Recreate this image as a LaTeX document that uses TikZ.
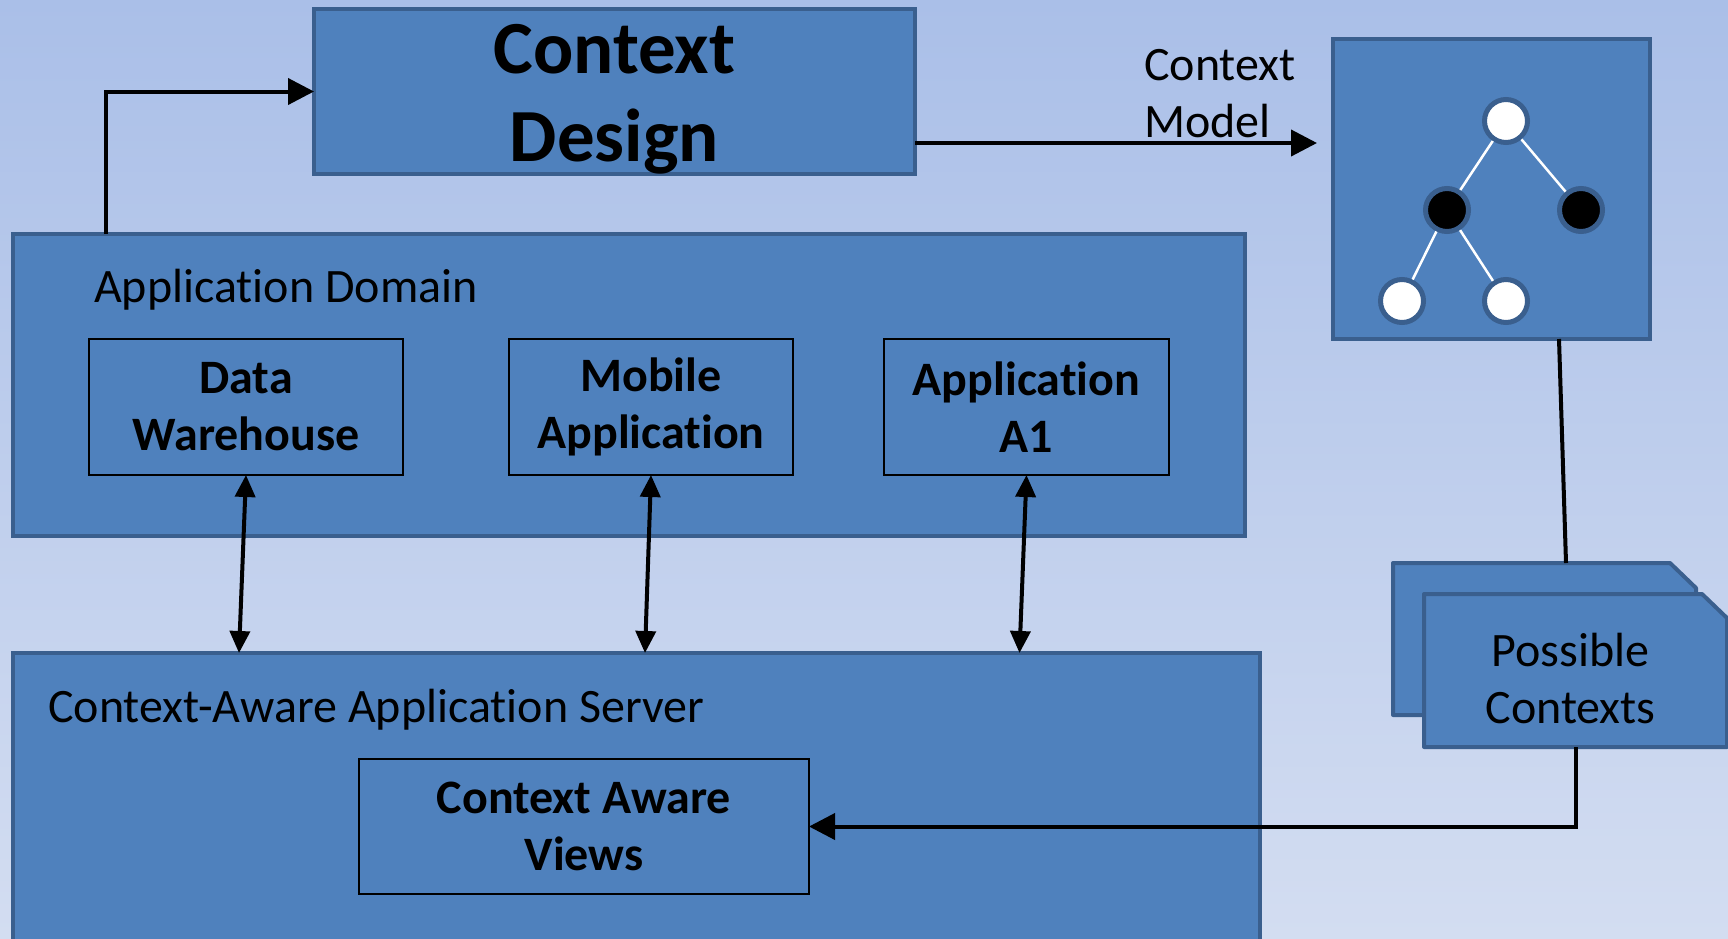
\documentclass[tikz,border=0pt]{standalone}
\usepackage{fontspec}
\setmainfont[Ligatures=NoCommon]{Carlito}
\usetikzlibrary{arrows.meta,calc}
\definecolor{boxblue}{HTML}{4F81BD}
\definecolor{boxedge}{HTML}{3A5F8E}
\definecolor{bgtop}{HTML}{AABFE8}
\definecolor{bgbot}{HTML}{D3DDF1}
\tikzset{
  bigbox/.style={draw=boxedge, fill=boxblue, line width=4pt, inner sep=0pt, outer sep=0pt, anchor=north west},
  innerbox/.style={draw=black, line width=1.5pt, inner sep=0pt, outer sep=0pt, anchor=north west,
    align=center, font=\fontsize{48}{57}\selectfont\bfseries},
  plain/.style={inner sep=0pt, font=\fontsize{48}{57}\selectfont},
  docframe/.style={inner sep=0pt, outer sep=0pt, anchor=north west},
  docfill/.style={draw=boxedge, fill=boxblue, line width=4pt, line join=round},
  arr/.style={draw=black, line width=4pt, -{Triangle[length=26pt,width=26pt]}},
  darr/.style={draw=black, line width=4pt, {Triangle[length=22pt,width=20pt]}-{Triangle[length=22pt,width=20pt]}},
  link/.style={draw=black, line width=4pt},
  treenode/.style={circle, draw=boxedge, line width=5pt, minimum size=43pt, inner sep=0pt},
  treeedge/.style={draw=white, line width=2.5pt},
}
\begin{document}
\begin{tikzpicture}[x=1pt,y=-1pt]
  % background
  \shade[top color=bgtop, bottom color=bgbot] (0,0) rectangle (1728,938);
  \useasboundingbox (0,0) rectangle (1728,938);

  % top box
  \node[bigbox, minimum width=601pt, minimum height=165pt] (design) at (314,9) {};
  \node[inner sep=0pt, align=center, font=\fontsize{75}{88}\selectfont\bfseries]
    (designtext) at ($(design.center)+(0,8)$) {Context\\Design};

  % context model box with tree
  \node[bigbox, minimum width=317pt, minimum height=300pt] (model) at (1333,39) {};
  \node[treenode, fill=white] (t1) at (1506,121) {};
  \node[treenode, fill=black] (t2) at (1447,210) {};
  \node[treenode, fill=black] (t3) at (1581,210) {};
  \node[treenode, fill=white] (t4) at (1402,301) {};
  \node[treenode, fill=white] (t5) at (1506,301) {};
  \draw[treeedge] (t1) -- (t2);
  \draw[treeedge] (t1) -- (t3);
  \draw[treeedge] (t2) -- (t4);
  \draw[treeedge] (t2) -- (t5);

  \node[plain, anchor=west, align=left] (modellabel) at (1144,94) {Context\\Model};

  % application domain
  \node[bigbox, minimum width=1232pt, minimum height=302pt] (domain) at (13,234) {};
  \node[plain, anchor=west] (domainlabel) at (94,290) {Application Domain};
  \node[innerbox, minimum width=314pt, minimum height=136pt] (dw) at (89,339) {Data\\Warehouse};
  \node[innerbox, minimum width=284pt, minimum height=136pt] (mob) at (509,339) {Mobile\\Application};
  \node[innerbox, minimum width=285pt, minimum height=136pt] (a1) at (884,339) {Application\\A1};

  % application server
  \node[bigbox, minimum width=1247pt, minimum height=300pt] (server) at (13,653) {};
  \node[plain, anchor=west] (serverlabel) at (48,710) {Context-Aware Application Server};
  \node[innerbox, minimum width=450pt, minimum height=135pt] (views) at (359,759) {Context Aware\\Views};

  % possible contexts: two stacked sheets with a cut corner
  \node[docframe, minimum width=303pt, minimum height=152pt] (pcback) at (1393,563) {};
  \path[docfill] (pcback.north west) -- ($(pcback.north east)+(-26,0)$)
    -- ($(pcback.north east)+(0,25)$) -- (pcback.south east) -- (pcback.south west) -- cycle;
  \node[docframe, minimum width=303pt, minimum height=153pt] (pcfront) at (1424,594) {};
  \path[docfill] (pcfront.north west) -- ($(pcfront.north east)+(-25,0)$)
    -- ($(pcfront.north east)+(0,24)$) -- (pcfront.south east) -- (pcfront.south west) -- cycle;
  \node[plain, align=center] (pctext) at ($(pcfront.center)+(-5,8)$) {Possible\\Contexts};

  % connectors
  \draw[arr] ($(domain.north west)+(93,0)$) |- (design.west);
  \coordinate (modelin) at (1317,143);
  \draw[arr] (design.east |- modelin) -- (modelin);
  \draw[link] ($(model.south west)+(226,0)$) -- ($(pcback.north west)+(173,0)$);
  \draw[arr] ($(pcfront.south west)+(152,0)$) |- (views.east);
  \draw[darr] (dw.south) -- ($(dw.south |- server.north)+(-7,0)$);
  \draw[darr] (mob.south) -- ($(mob.south |- server.north)+(-6,0)$);
  \draw[darr] (a1.south) -- ($(a1.south |- server.north)+(-7,0)$);
\end{tikzpicture}
\end{document}
